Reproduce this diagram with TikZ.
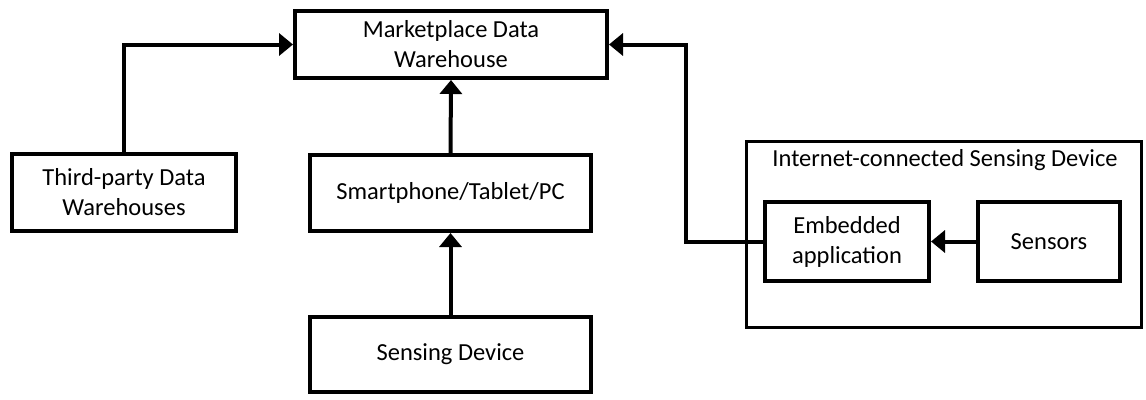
\documentclass[tikz,border=0pt]{standalone}
\usepackage{fontspec}
\setmainfont{Carlito}
\usetikzlibrary{arrows.meta}
\begin{document}
\begin{tikzpicture}[x=1pt,y=-1pt,
  lbl/.style={font=\fontsize{24.5}{30}\selectfont},
  box/.style={lbl, draw, line width=4pt, rectangle, align=center, inner sep=0pt},
  group/.style={draw, line width=3pt, rectangle, inner sep=0pt},
  flow/.style={line width=4pt, -{Triangle[length=14pt,width=22pt]}}]
\useasboundingbox (0,0) rectangle (1146,399);
% enclosing device frame
\node[group, minimum width=395pt, minimum height=186pt] (dev) at (944,234.5) {};
\node[lbl, anchor=center] (devlabel) at (945,160) {Internet-connected Sensing Device};
% boxes
\node[box, minimum width=312pt, minimum height=67pt] (mk) at (451,44.5) {Marketplace Data\\Warehouse};
\node[box, minimum width=224pt, minimum height=77pt] (tp) at (124,192.5) {Third-party Data\\Warehouses};
\node[box, minimum width=281pt, minimum height=76pt] (sp) at (450.5,193) {Smartphone/Tablet/PC};
\node[box, minimum width=281pt, minimum height=75pt] (sd) at (450.5,354.5) {Sensing Device};
\node[box, minimum width=164pt, minimum height=79pt] (emb) at (847,241.5) {Embedded\\application};
\node[box, minimum width=142pt, minimum height=79pt] (sen) at (1049,241.5) {Sensors};
\coordinate (bend) at (686,44.5);
% connectors
\draw[flow] (tp.north) |- (mk.west);
\draw[flow] (sp.north) -- (mk.south);
\draw[flow] (sd.north) -- (sp.south);
\draw[flow] (sen.west) -- (emb.east);
\draw[flow] (emb.west) -| (bend) -- (mk.east);
\end{tikzpicture}
\end{document}
